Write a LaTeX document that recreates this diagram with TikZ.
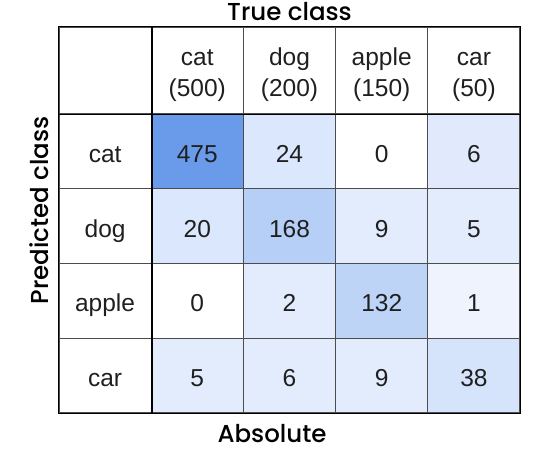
\documentclass[tikz,border=0pt]{standalone}
\usepackage{fontspec}
\setmainfont{Liberation Sans}
\newfontfamily\axisfont{Poppins}[UprightFont=* Medium]
\usetikzlibrary{positioning}
\definecolor{celldark}{HTML}{6A9BEB}
\definecolor{cellmid}{HTML}{B6CFF6}
\definecolor{cellmidb}{HTML}{BDD4F7}
\definecolor{celllight}{HTML}{DBE7FC}
\definecolor{cellpale}{HTML}{E3ECFC}
\definecolor{cellpaleb}{HTML}{E0EAFC}
\definecolor{cellfaint}{HTML}{EEF3FE}
\definecolor{cellcar}{HTML}{D6E4FB}

\begin{document}
\begin{tikzpicture}[x=1pt,y=-1pt]
\useasboundingbox (0,0) rectangle (544,452);
\tikzstyle{cell}=[rectangle,draw=black!70,line width=1.1pt,node distance=92.2pt,
inner sep=0pt,minimum width=92.2pt,minimum height=74.75pt,
text height=22pt,text depth=0pt,
font=\fontsize{24.5}{32}\selectfont,text=black!88]
\tikzstyle{head}=[cell,minimum height=87pt,align=center,
text height=58pt,text depth=5pt]
\tikzstyle{axis}=[font=\axisfont\fontsize{24.5}{28}\selectfont,text=black]

\node[head] at (105.1,70.5) (h0) {};
\node[head,right of =h0] (h1) {cat\\(500)};
\node[head,right of =h1] (h2) {dog\\(200)};
\node[head,right of =h2] (h3) {apple\\(150)};
\node[head,right of =h3] (h4) {car\\(50)};

\node[cell] at (105.1,151.4) (r1) {cat};
\node[cell,right of =r1,fill=celldark] (r1c1) {475};
\node[cell,right of =r1c1,fill=celllight] (r1c2) {24};
\node[cell,right of =r1c2] (r1c3) {0};
\node[cell,right of =r1c3,fill=cellpaleb] (r1c4) {6};

\node[cell] at (105.1,226.1) (r2) {dog};
\node[cell,right of =r2,fill=celllight] (r2c1) {20};
\node[cell,right of =r2c1,fill=cellmid] (r2c2) {168};
\node[cell,right of =r2c2,fill=cellpale] (r2c3) {9};
\node[cell,right of =r2c3,fill=cellpale] (r2c4) {5};

\node[cell] at (105.1,300.9) (r3) {apple};
\node[cell,right of =r3] (r3c1) {0};
\node[cell,right of =r3c1,fill=cellpale] (r3c2) {2};
\node[cell,right of =r3c2,fill=cellmidb] (r3c3) {132};
\node[cell,right of =r3c3,fill=cellfaint] (r3c4) {1};

\node[cell] at (105.1,375.6) (r4) {car};
\node[cell,right of =r4,fill=cellpale] (r4c1) {5};
\node[cell,right of =r4c1,fill=cellpale] (r4c2) {6};
\node[cell,right of =r4c2,fill=cellpale] (r4c3) {9};
\node[cell,right of =r4c3,fill=cellcar] (r4c4) {38};

\draw[line width=1.8pt] (h0.north west) rectangle (r4c4.south east);
\draw[line width=1.5pt] (h0.south west) -- (h4.south east);
\draw[line width=1.5pt] (h0.north east) -- (r4.south east);

\node[axis,anchor=base] at (289.5,20.5) (true) {True class};
\node[axis,anchor=base] at (272,442) (absolute) {Absolute};
\node[axis,rotate=90,anchor=base] at (48,210.5) (pred) {Predicted class};

\end{tikzpicture}
\end{document}
